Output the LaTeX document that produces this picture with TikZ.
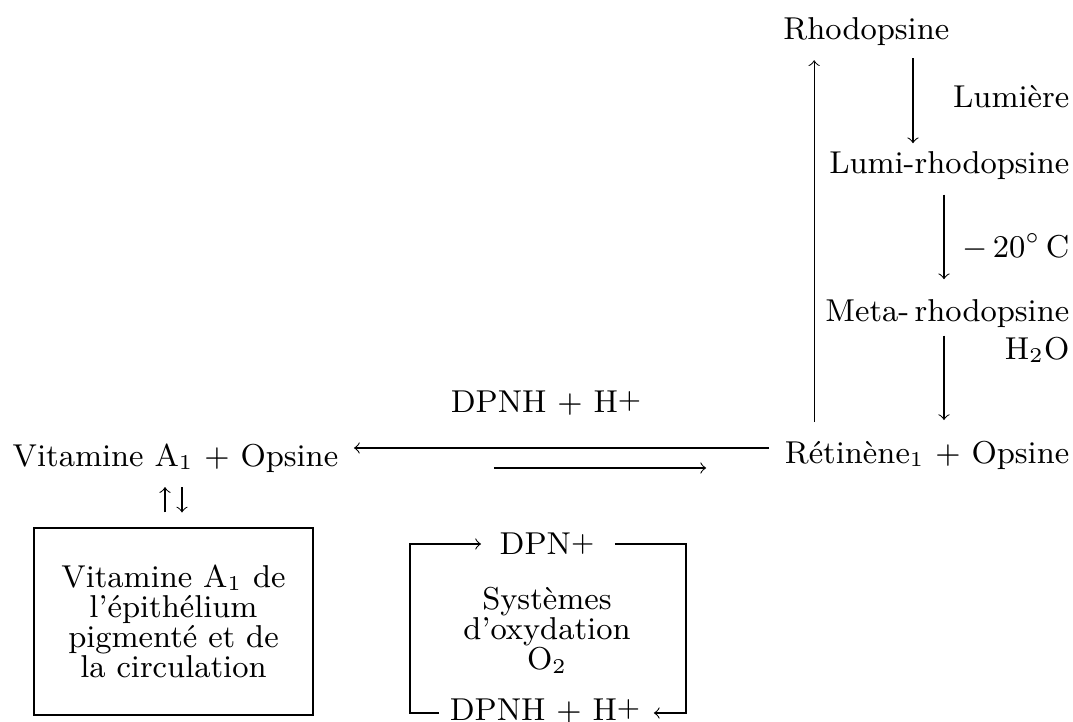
\documentclass[tikz,border=0pt]{standalone}
\usepackage{tikz}
\usetikzlibrary{calc,arrows}
\newcommand{\ionp}{\raisebox{.25ex}{\footnotesize +}}

\begin{document}
\begin{tikzpicture}[>=to,
    txt/.style={inner sep=0pt,font=\fontsize{9}{8.6}\selectfont,align=center},
    fl/.style={->,line width=0.3pt}]
  \useasboundingbox (0,0) rectangle (10.73,7.22);

  \node[txt,anchor=east] (rho) at (9.50,6.905) {Rhodopsine};
  \node[txt,anchor=east] (lumi) at (10.70,5.56) {Lumi-rhodopsine};
  \node[txt,anchor=east] (meta) at (10.70,4.08) {Meta-\,rhodopsine};
  \node[txt,anchor=east] (ret) at (10.70,2.67) {Rétinène$_1$~$+$~Opsine};
  \node[txt,anchor=west] (vit) at (0.12,2.64) {Vitamine A$_1$~$+$~Opsine};
  \node[txt] (dpnh) at (5.46,3.19) {DPNH $+$ H\ionp};

  \node[txt,anchor=east] (lum) at (10.70,6.25) {Lumière};
  \node[txt,anchor=east] (froid) at (10.70,4.75) {$-\,20^{\circ}$\,C};
  \node[txt,anchor=east] (eau) at (10.70,3.72) {H$_2$O};

  \node[txt,draw,line width=0.3pt,minimum width=2.79cm,minimum height=1.87cm] (pig) at (1.735,1.005) {Vitamine A$_1$ de\\l'épithélium\\pigmenté et de\\la circulation};

  \node[txt] (dpn) at (5.47,1.78) {DPN\ionp};
  \node[txt] (sys) at (5.47,0.92) {Systèmes\\d'oxydation\\O$_2$};
  \node[txt] (dpnhb) at (5.45,0.11) {DPNH $+$ H\ionp};

  \draw[fl] ($(rho.south -| lumi.east)+(-1.57,-0.12)$) -- ($(lumi.north east)+(-1.57,0.08)$);
  \draw[fl] ($(lumi.south east)+(-1.26,-0.14)$) -- ($(meta.north east)+(-1.26,0.20)$);
  \draw[fl] ($(meta.south east)+(-1.26,-0.07)$) -- ($(ret.north east)+(-1.26,0.20)$);
  \draw[fl] ($(ret.north west)+(0.30,0.18)$) -- ($(ret.north west |- rho.south)+(0.30,-0.14)$);

  \draw[fl] ($(ret.west)+(-0.15,0.07)$) -- ($(vit.east |- ret.west)+(0.15,0.07)$);
  \draw[fl] ($(vit.east)+(1.55,-0.10)$) -- ($(ret.west)+(-0.78,-0.13)$);

  \draw[fl] ($(pig.north)+(-0.085,0.15)$) -- ($(pig.north |- vit.south)+(-0.085,-0.14)$);
  \draw[fl] ($(pig.north |- vit.south)+(0.085,-0.14)$) -- ($(pig.north)+(0.085,0.15)$);

  \draw[fl] ($(dpnhb.west)+(-0.10,-0.02)$) -| ($(dpn.west)+(-0.89,0)$) -- ($(dpn.west)+(-0.18,0)$);
  \draw[fl] ($(dpn.east)+(0.20,0)$) -- ($(dpn.east)+(0.91,0)$) |- ($(dpnhb.east)+(0.13,-0.02)$);
\end{tikzpicture}
\end{document}
